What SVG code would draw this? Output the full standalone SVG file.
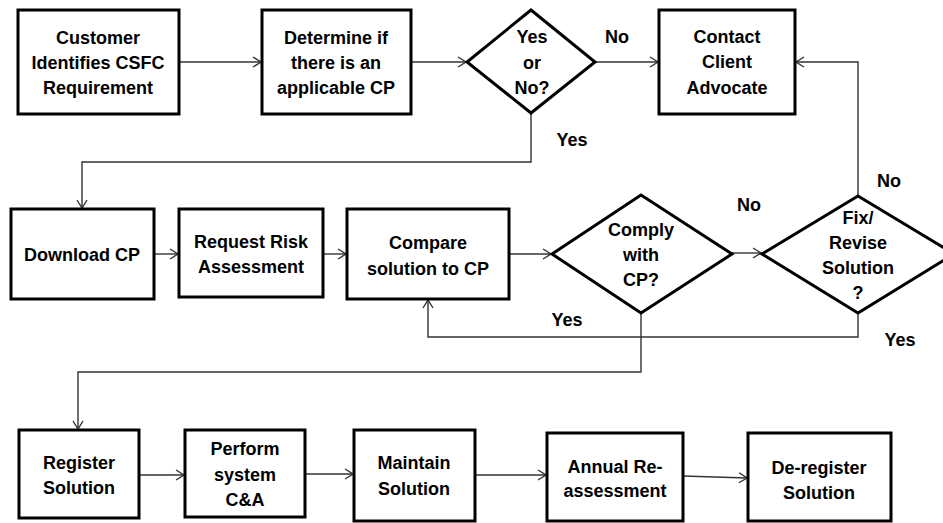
<svg xmlns="http://www.w3.org/2000/svg" width="943" height="523" viewBox="0 0 943 523">
<style>
.n{fill:#fff;stroke:#000;stroke-width:3}
.t{font-family:"Liberation Sans",Arial,sans-serif;font-weight:bold;font-size:18px;fill:#000;text-anchor:middle}
.c{fill:none;stroke:#333;stroke-width:1.4}
</style>
<defs>
<marker id="ah" markerWidth="10" markerHeight="12" refX="9" refY="6" orient="auto" markerUnits="userSpaceOnUse">
<path d="M1,1 L9,6 L1,11" fill="none" stroke="#333" stroke-width="1.4"/>
</marker>
</defs>
<rect width="943" height="523" fill="#fff"/>
<g id="connectors">
<path class="c" d="M179,62 H261" marker-end="url(#ah)"/>
<path class="c" d="M411,62 H466" marker-end="url(#ah)"/>
<path class="c" d="M595,62 H658" marker-end="url(#ah)"/>
<path class="c" d="M531,113 V162 H82 V208" marker-end="url(#ah)"/>
<path class="c" d="M154,254 H178" marker-end="url(#ah)"/>
<path class="c" d="M323,254 H346" marker-end="url(#ah)"/>
<path class="c" d="M509,254 H551" marker-end="url(#ah)"/>
<path class="c" d="M732,253 H761" marker-end="url(#ah)"/>
<path class="c" d="M858,196 V62 H796" marker-end="url(#ah)"/>
<path class="c" d="M858,313 V337 H428 V300" marker-end="url(#ah)"/>
<path class="c" d="M641,313 V372 H78 V429" marker-end="url(#ah)"/>
<path class="c" d="M139,475 H184" marker-end="url(#ah)"/>
<path class="c" d="M305,474 H353" marker-end="url(#ah)"/>
<path class="c" d="M475,475 H546" marker-end="url(#ah)"/>
<path class="c" d="M683,476 L747,478" marker-end="url(#ah)"/>
</g>
<g id="customer"><rect class="n" x="18" y="10" width="161" height="104"/>
<text class="t" x="98" y="44">Customer</text><text class="t" x="98" y="69">Identifies CSFC</text><text class="t" x="98" y="94">Requirement</text></g>
<g id="determine"><rect class="n" x="262" y="10" width="149" height="104"/>
<text class="t" x="336" y="44">Determine if</text><text class="t" x="336" y="69">there is an</text><text class="t" x="336" y="94">applicable CP</text></g>
<g id="yesno"><polygon class="n" points="531,10 595,62 531,113 467,62"/>
<text class="t" x="532" y="43">Yes</text><text class="t" x="532" y="69">or</text><text class="t" x="532" y="94">No?</text></g>
<g id="contact"><rect class="n" x="659" y="10" width="136" height="104"/>
<text class="t" x="727" y="43">Contact</text><text class="t" x="727" y="68">Client</text><text class="t" x="727" y="94">Advocate</text></g>
<g id="download"><rect class="n" x="11" y="209" width="143" height="90"/>
<text class="t" x="82" y="261">Download CP</text></g>
<g id="request"><rect class="n" x="179" y="209" width="144" height="88"/>
<text class="t" x="251" y="248">Request Risk</text><text class="t" x="251" y="273">Assessment</text></g>
<g id="compare"><rect class="n" x="347" y="209" width="162" height="90"/>
<text class="t" x="428" y="249">Compare</text><text class="t" x="428" y="275">solution to CP</text></g>
<g id="comply"><polygon class="n" points="641,195 732,254 641,313 552,254"/>
<text class="t" x="641" y="236">Comply</text><text class="t" x="641" y="261">with</text><text class="t" x="641" y="286">CP?</text></g>
<g id="fix"><polygon class="n" points="858,196 954,254 858,313 762,254"/>
<text class="t" x="858" y="224">Fix/</text><text class="t" x="858" y="249">Revise</text><text class="t" x="858" y="274">Solution</text><text class="t" x="858" y="299">?</text></g>
<g id="register"><rect class="n" x="19" y="430" width="120" height="88"/>
<text class="t" x="79" y="469">Register</text><text class="t" x="79" y="494">Solution</text></g>
<g id="perform"><rect class="n" x="185" y="430" width="120" height="87"/>
<text class="t" x="245" y="455">Perform</text><text class="t" x="245" y="481">system</text><text class="t" x="245" y="506">C&amp;A</text></g>
<g id="maintain"><rect class="n" x="354" y="430" width="121" height="91"/>
<text class="t" x="414" y="469">Maintain</text><text class="t" x="414" y="495">Solution</text></g>
<g id="annual"><rect class="n" x="547" y="433" width="136" height="88"/>
<text class="t" x="615" y="473">Annual Re-</text><text class="t" x="615" y="497">assessment</text></g>
<g id="deregister"><rect class="n" x="748" y="433" width="143" height="88"/>
<text class="t" x="819" y="474">De-register</text><text class="t" x="819" y="499">Solution</text></g>
<g id="labels">
<text class="t" x="617" y="43">No</text>
<text class="t" x="572" y="146">Yes</text>
<text class="t" x="749" y="211">No</text>
<text class="t" x="889" y="187">No</text>
<text class="t" x="567" y="326">Yes</text>
<text class="t" x="900" y="346">Yes</text>
</g>
</svg>
